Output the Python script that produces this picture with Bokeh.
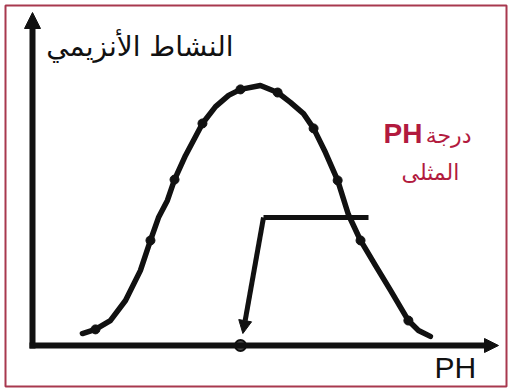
from bokeh.plotting import figure
from bokeh.models import Range1d, Arrow, NormalHead
from bokeh.core.properties import value
from bokeh.embed import file_html
from bokeh.resources import INLINE

# Enzyme activity (% of maximum) against pH
curve_ph = [1.68, 2.12, 2.62, 3.13, 3.63, 3.97, 4.24, 4.54, 4.78, 5.15, 5.72, 6.16,
            6.60, 7.00, 7.67, 8.25, 8.68, 9.12, 9.46, 9.86, 10.27, 10.63, 11.04,
            11.54, 12.05, 12.65, 12.99, 13.39]
curve_activity = [4.6, 6.2, 9.6, 17.3, 28.8, 40.4, 49.2, 55.8, 63.8, 73.1, 85.4, 91.9,
                  96.2, 98.5, 100.0, 97.3, 93.5, 89.2, 83.5, 74.2, 63.5, 50.4, 40.4,
                  30.8, 21.2, 9.6, 5.8, 3.5]

# Measured points marked on the curve
point_ph = [2.12, 3.97, 4.78, 5.72, 7.00, 8.25, 9.46, 10.27, 11.04, 12.65]
point_activity = [6.2, 40.4, 63.8, 85.4, 98.5, 97.3, 83.5, 63.5, 40.4, 9.6]

optimum_ph = 7.0

y_title = "النشاط الأنزيمي"
x_title = "PH"
opt_word1 = "درجة"
opt_word2 = "PH"
opt_word3 = "المثلى"

INK = "#111111"
RED = "#b21a3e"

# pixel scale of the frame: pH unit and activity unit
SX = 29.714
SY = 2.6


def hx(px):
    return (px - 32) / SX


def vy(py):
    return (345 - py) / SY


p = figure(width=510, height=391, output_backend="svg", toolbar_location=None,
           x_axis_location=None, y_axis_location=None,
           min_border_left=5, min_border_right=4, min_border_top=5, min_border_bottom=5,
           x_range=Range1d(hx(5), hx(506)), y_range=Range1d(vy(386), vy(5)))
p.grid.visible = False
p.outline_line_color = "#a8384f"
p.outline_line_width = 2
p.background_fill_color = "white"
p.border_fill_color = "white"

# axes drawn as arrows
p.add_layout(Arrow(x_start=0, y_start=vy(348), x_end=0, y_end=vy(12),
                   line_width=6, line_color=INK,
                   end=NormalHead(size=16, fill_color=INK, line_color=INK)))
p.add_layout(Arrow(x_start=hx(29), y_start=0, x_end=hx(498), y_end=0,
                   line_width=6, line_color=INK,
                   end=NormalHead(size=14, fill_color=INK, line_color=INK)))

# activity curve and its points
p.line(curve_ph, curve_activity, line_width=5.5, line_color=INK,
       line_join="round", line_cap="round")
p.scatter(point_ph, point_activity, size=9, fill_color=INK, line_color=INK)

# optimum marker on the pH axis
p.scatter([optimum_ph], [0], size=11, fill_color="#4a4a4a", line_color=INK, line_width=2)

# label leader pointing down to the optimum
p.line([hx(368), hx(263)], [vy(217), vy(217)], line_width=5, line_color=INK)
p.add_layout(Arrow(x_start=hx(263), y_start=vy(217), x_end=optimum_ph + 0.08, y_end=vy(333),
                   line_width=5, line_color=INK,
                   end=NormalHead(size=13, fill_color=INK, line_color=INK)))

# texts
p.text([hx(233)], [vy(46)], text=[y_title], text_align="right", text_baseline="alphabetic",
       text_font=value("DejaVu Sans"), text_font_size="28px", text_color=INK)
p.text([hx(434)], [vy(367)], text=[x_title], text_align="left", text_baseline="alphabetic",
       text_font=value("Liberation Sans"), text_font_size="30px", text_color=INK)
p.text([hx(422)], [vy(133)], text=[opt_word2], text_align="right", text_baseline="alphabetic",
       text_font=value("Liberation Sans"), text_font_size="28px", text_font_style="bold",
       text_color=RED)
p.text([hx(471)], [vy(135)], text=[opt_word1], text_align="right", text_baseline="alphabetic",
       text_font=value("DejaVu Sans"), text_font_size="22px", text_color=RED)
p.text([hx(430)], [vy(172)], text=[opt_word3], text_align="center", text_baseline="alphabetic",
       text_font=value("DejaVu Sans"), text_font_size="22px", text_color=RED)

open("out.html", "w").write(file_html(p, INLINE))
